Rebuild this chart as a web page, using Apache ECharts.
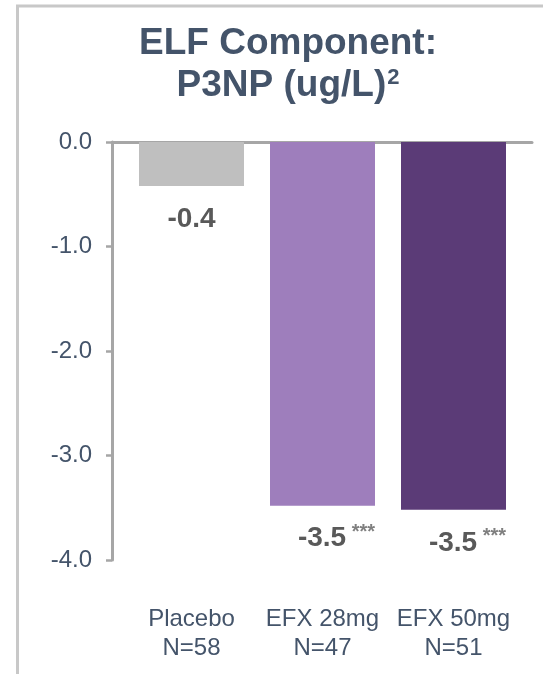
<!DOCTYPE html>
<html>
<head>
<meta charset="utf-8">
<script src="https://cdn.jsdelivr.net/npm/echarts@6/dist/echarts.min.js"></script>
<style>
  html, body { margin: 0; padding: 0; background: #ffffff; }
  #chart { width: 543px; height: 674px; }
</style>
</head>
<body>
<div id="chart"></div>
<script>
// Treatment groups and their sample sizes
const groups = ['Placebo', 'EFX 28mg', 'EFX 50mg'];
const groupSizes = [58, 47, 51];
// Change from baseline in P3NP (ug/L)
const changeFromBaseline = [-0.42, -3.48, -3.52];
// Significance markers next to each value label
const significance = ['', '***', '***'];
const barColors = ['#BFBFBF', '#9E7EBC', '#5B3B77'];

const FONT = '"Liberation Sans", Arial, sans-serif';
const TEXT_BLUE = '#44546A';
const AXIS_GREY = '#A6A6A6';

const chart = echarts.init(document.getElementById('chart'), null, { renderer: 'canvas' });

chart.setOption({
  animation: false,
  backgroundColor: '#ffffff',
  title: [
    {
      text: 'ELF Component:',
      left: 288, top: 23, textAlign: 'center', padding: 0,
      textStyle: { fontFamily: FONT, fontSize: 37, fontWeight: 'bold', color: TEXT_BLUE, lineHeight: 42 }
    },
    {
      text: '{m|P3NP (ug/L)}{s|2}',
      left: 288, top: 65, textAlign: 'center', padding: 0,
      textStyle: {
        rich: {
          m: { fontFamily: FONT, fontSize: 37, fontWeight: 'bold', color: TEXT_BLUE, lineHeight: 42 },
          s: { fontFamily: FONT, fontSize: 22, fontWeight: 'bold', color: TEXT_BLUE, lineHeight: 22,
               verticalAlign: 'top', padding: [2, 0, 0, 1] }
        }
      }
    }
  ],
  // outer frame on the left and top
  graphic: [
    {
      type: 'polyline', silent: true,
      shape: { points: [[17.5, 674], [17.5, 6], [543, 6]] },
      style: { stroke: '#C8C8C8', lineWidth: 3, fill: null }
    }
  ],
  grid: [
    // axes frame
    { left: 112, right: 11, top: 142, bottom: 114 },
    // bar area
    { left: 126, right: 24, top: 142, bottom: 114 }
  ],
  xAxis: [
    {
      gridIndex: 0, type: 'category', data: groups,
      axisLine: { show: true, onZero: true, lineStyle: { color: AXIS_GREY, width: 3 } },
      axisTick: { show: false }, axisLabel: { show: false }, splitLine: { show: false }
    },
    {
      gridIndex: 1, type: 'category', data: groups,
      axisLine: { show: false, onZero: false },
      axisTick: { show: false }, splitLine: { show: false },
      axisLabel: {
        interval: 0, hideOverlap: false,
        margin: 45, fontFamily: FONT, fontSize: 24, lineHeight: 29, color: TEXT_BLUE,
        formatter: (v, i) => v + '\nN=' + groupSizes[i]
      }
    }
  ],
  yAxis: [
    {
      gridIndex: 0, type: 'value', min: -4, max: 0, interval: 1,
      axisLine: { show: true, lineStyle: { color: AXIS_GREY, width: 3 } },
      axisTick: { show: true, length: 6, lineStyle: { color: AXIS_GREY, width: 2.5 } },
      splitLine: { show: false },
      axisLabel: {
        margin: 20, fontFamily: FONT, fontSize: 24, color: TEXT_BLUE,
        formatter: v => v.toFixed(1)
      }
    },
    { gridIndex: 1, type: 'value', min: -4, max: 0, interval: 1, show: false }
  ],
  series: [
    {
      type: 'bar', xAxisIndex: 1, yAxisIndex: 1, barWidth: 105,
      data: changeFromBaseline.map((v, i) => ({
        value: v,
        itemStyle: { color: barColors[i] },
        label: { offset: [significance[i] ? 14 : 0, 0] }
      })),
      label: {
        show: true, position: 'bottom', distance: 17,
        formatter: p => '{v|' + p.value.toFixed(1) + '}' +
          (significance[p.dataIndex] ? '{s| ' + significance[p.dataIndex] + '}' : ''),
        rich: {
          v: { fontFamily: FONT, fontSize: 28, fontWeight: 'bold', color: '#595959', lineHeight: 32 },
          s: { fontFamily: FONT, fontSize: 20, fontWeight: 'bold', color: '#7F7F7F', lineHeight: 18, verticalAlign: 'top' }
        }
      }
    }
  ]
});
</script>
</body>
</html>
